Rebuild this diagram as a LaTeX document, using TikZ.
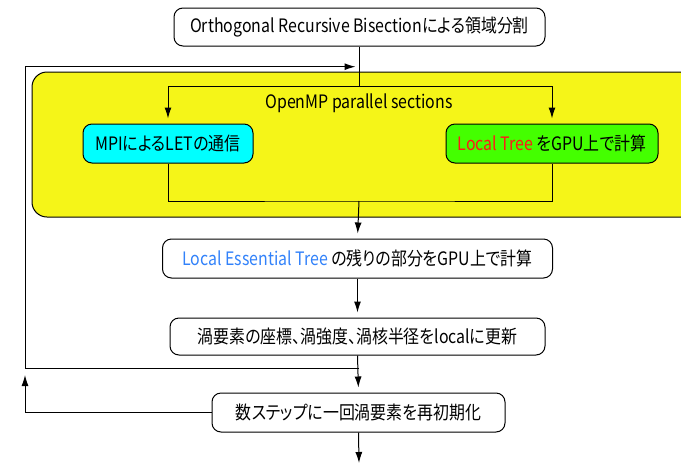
\documentclass[tikz,border=0pt]{standalone}
\usepackage{fontspec}
\setmainfont[FakeStretch=0.86,RawFeature=+palt]{Noto Sans CJK JP}
\usetikzlibrary{arrows.meta,calc}
\definecolor{ompyellow}{RGB}{245,245,24}
\definecolor{letcyan}{RGB}{0,255,255}
\definecolor{ltgreen}{RGB}{68,255,0}
\definecolor{ltred}{RGB}{255,24,24}
\definecolor{letblue}{RGB}{50,130,250}

\begin{document}
\begin{tikzpicture}[x=1pt,y=-1pt,>={Latex[length=11pt,width=7pt]},line width=1pt,
      flowbox/.style={draw,rounded corners=9pt,inner sep=0pt,minimum height=38pt,
        font=\fontsize{18.5}{21}\selectfont},
      flowline/.style={->,shorten >=5pt}]
      \useasboundingbox (0,0) rectangle (681,467);

      % parallel region
      \path[draw,fill=ompyellow,rounded corners=15pt] (32,72) rectangle (700,217);
      \node[font=\fontsize{18.5}{21}\selectfont] (omp) at (359,103) {OpenMP parallel sections};

      \node[flowbox,fill=white,minimum width=371pt] (orb) at (359.5,27)
        {Orthogonal Recursive Bisectionによる領域分割};
      \node[flowbox,fill=letcyan,minimum width=170pt,minimum height=39pt] (mpi) at (168,143.5)
        {MPIによるLETの通信};
      \node[flowbox,fill=ltgreen,minimum width=212pt,minimum height=39pt] (lt) at (552,143.5)
        {\textcolor{ltred}{Local Tree} をGPU上で計算};
      \node[flowbox,fill=white,minimum width=390pt,minimum height=39pt] (let) at (357.5,258.5)
        {\textcolor{letblue}{Local Essential Tree} の残りの部分をGPU上で計算};
      \node[flowbox,fill=white,minimum width=375pt,minimum height=37pt] (upd) at (357.5,336.5)
        {渦要素の座標、渦強度、渦核半径をlocalに更新};
      \node[flowbox,fill=white,minimum width=293pt,minimum height=39pt] (reinit) at (358.5,412.5)
        {数ステップに一回渦要素を再初期化};

      \coordinate (split) at (359,86);
      \coordinate (join) at (359,201);
      \coordinate (loop) at (359,368);
      \coordinate (back) at (25,66.7);
      \coordinate (out) at (359,463);

      \draw (orb.south) -- (orb.south |- split);
      \draw[flowline] (split) -| (mpi.north);
      \draw[flowline] (split) -| (lt.north);
      \draw (mpi.south) |- (join) -| (lt.south);
      \draw[flowline] (join) -- (let.north);
      \draw[flowline] (let.south) -- (upd.north);
      \draw[flowline] (upd.south) -- (reinit.north);
      \draw[->] (reinit.south) -- (out);

      % loop back
      \draw[flowline,shorten >=4pt] (loop) -| (back) -- (orb.south |- back);
      \draw[flowline,shorten >=7pt] (reinit.west) -| (back |- loop);
\end{tikzpicture}
\end{document}
